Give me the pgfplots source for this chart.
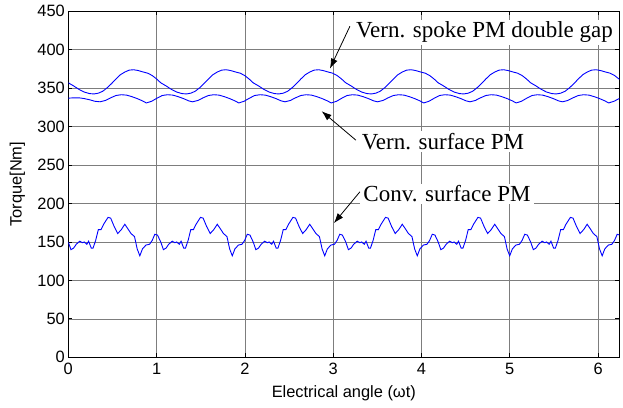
\documentclass[border=0pt]{standalone}
\usepackage{fontspec}
\setmainfont{Liberation Sans}
\newfontfamily\tnr{Liberation Serif}
\usepackage{pgfplots}
\pgfplotsset{compat=1.18}
\usetikzlibrary{arrows.meta}
\definecolor{mblue}{RGB}{0,0,255}
\definecolor{gridgray}{RGB}{125,125,125}
\begin{document}
\begin{tikzpicture}
\useasboundingbox (-68.3bp,-50.7bp) rectangle (554.7bp,357.3bp);
\begin{axis}[
 at={(0,0)}, anchor=south west,
 scale only axis, width=551bp, height=346bp,
 xmin=0, xmax=6.24, ymin=0, ymax=450,
 xtick={0,1,2,3,4,5,6}, ytick={0,50,...,450},
 grid=major, major grid style={gridgray, line width=0.7bp},
 axis line style={black, line width=1.2bp},
 tick align=inside, major tick length=4bp, tick style={black, line width=0.8bp},
 tick label style={font=\fontsize{16.4bp}{19bp}\selectfont},
 /pgf/number format/assume math mode=true,
 xticklabel style={yshift=-2bp},
 label style={font=\fontsize{16.4bp}{19bp}\selectfont},
 xlabel={Electrical angle (ωt)},
 ylabel={Torque[Nm]},
 xlabel style={at={(axis description cs:0.5,-0.1162)}, anchor=base},
 ylabel style={at={(axis description cs:-0.0849,0.5)}, anchor=base},
 clip mode=individual,
]
% Vern. spoke PM double gap
\addplot[mblue, line width=0.9bp] coordinates {
(0.000,357) (0.060,353) (0.120,348.5) (0.180,345) (0.240,343) (0.290,342.5) (0.340,343.5) (0.390,346) (0.440,350.5) (0.490,356) (0.540,362) (0.590,367.5) (0.640,371) (0.690,373.5) (0.740,374) (0.790,373) (0.850,371) (0.900,369.5) (0.950,366.5) (1.000,362)
(1.047,357) (1.107,353) (1.167,348.5) (1.227,345) (1.287,343) (1.337,342.5) (1.387,343.5) (1.437,346) (1.487,350.5) (1.537,356) (1.587,362) (1.637,367.5) (1.687,371) (1.737,373.5) (1.787,374) (1.837,373) (1.897,371) (1.947,369.5) (1.997,366.5) (2.047,362)
(2.094,357) (2.154,353) (2.214,348.5) (2.274,345) (2.334,343) (2.384,342.5) (2.434,343.5) (2.484,346) (2.534,350.5) (2.584,356) (2.634,362) (2.684,367.5) (2.734,371) (2.784,373.5) (2.834,374) (2.884,373) (2.944,371) (2.994,369.5) (3.044,366.5) (3.094,362)
(3.142,357) (3.202,353) (3.262,348.5) (3.322,345) (3.382,343) (3.432,342.5) (3.482,343.5) (3.532,346) (3.582,350.5) (3.632,356) (3.682,362) (3.732,367.5) (3.782,371) (3.832,373.5) (3.882,374) (3.932,373) (3.992,371) (4.042,369.5) (4.092,366.5) (4.142,362)
(4.189,357) (4.249,353) (4.309,348.5) (4.369,345) (4.429,343) (4.479,342.5) (4.529,343.5) (4.579,346) (4.629,350.5) (4.679,356) (4.729,362) (4.779,367.5) (4.829,371) (4.879,373.5) (4.929,374) (4.979,373) (5.039,371) (5.089,369.5) (5.139,366.5) (5.189,362)
(5.236,357) (5.296,353) (5.356,348.5) (5.416,345) (5.476,343) (5.526,342.5) (5.576,343.5) (5.626,346) (5.676,350.5) (5.726,356) (5.776,362) (5.826,367.5) (5.876,371) (5.926,373.5) (5.976,374) (6.026,373) (6.086,371) (6.136,369.5) (6.186,366.5) (6.236,362) (6.283,357)
};
% Vern. surface PM
\addplot[mblue, line width=0.9bp] coordinates {
(0.000,337) (0.060,337.5) (0.120,337.5) (0.180,336.5) (0.240,335) (0.300,333)
(0.360,332.3) (0.420,334) (0.480,337.5) (0.540,340.5) (0.600,341.5) (0.660,341) (0.720,339) (0.780,336.5) (0.840,333.5)
(0.884,330.8) (0.944,333) (1.004,337) (1.064,340.5) (1.124,341.5) (1.184,341) (1.244,339) (1.304,336.5) (1.364,333.5)
(1.407,332.3) (1.467,334) (1.527,337.5) (1.587,340.5) (1.647,341.5) (1.707,341) (1.767,339) (1.827,336.5) (1.887,333.5)
(1.931,330.8) (1.991,333) (2.051,337) (2.111,340.5) (2.171,341.5) (2.231,341) (2.291,339) (2.351,336.5) (2.411,333.5)
(2.454,332.3) (2.514,334) (2.574,337.5) (2.634,340.5) (2.694,341.5) (2.754,341) (2.814,339) (2.874,336.5) (2.934,333.5)
(2.978,330.8) (3.038,333) (3.098,337) (3.158,340.5) (3.218,341.5) (3.278,341) (3.338,339) (3.398,336.5) (3.458,333.5)
(3.502,332.3) (3.562,334) (3.622,337.5) (3.682,340.5) (3.742,341.5) (3.802,341) (3.862,339) (3.922,336.5) (3.982,333.5)
(4.025,330.8) (4.085,333) (4.145,337) (4.205,340.5) (4.265,341.5) (4.325,341) (4.385,339) (4.445,336.5) (4.505,333.5)
(4.549,332.3) (4.609,334) (4.669,337.5) (4.729,340.5) (4.789,341.5) (4.849,341) (4.909,339) (4.969,336.5) (5.029,333.5)
(5.072,330.8) (5.132,333) (5.192,337) (5.252,340.5) (5.312,341.5) (5.372,341) (5.432,339) (5.492,336.5) (5.552,333.5)
(5.596,332.3) (5.656,334) (5.716,337.5) (5.776,340.5) (5.836,341.5) (5.896,341) (5.956,339) (6.016,336.5) (6.076,333.5)
(6.120,330.8) (6.180,333) (6.240,336.5) (6.283,338.5)
};
% Conv. surface PM
\addplot[mblue, line width=0.9bp] coordinates {
(0.000,150) (0.030,140) (0.060,142) (0.090,147) (0.130,151) (0.160,149) (0.180,150) (0.210,147) (0.230,151) (0.260,142) (0.280,142) (0.310,152) (0.340,166) (0.370,166) (0.400,173) (0.450,182) (0.480,181) (0.520,170) (0.560,161) (0.600,166) (0.640,173) (0.670,168) (0.710,161) (0.750,157) (0.780,141) (0.810,132) (0.840,141) (0.880,146) (0.920,147) (0.950,152) (0.980,160) (1.010,159)
(1.047,150) (1.077,140) (1.107,142) (1.137,147) (1.177,151) (1.207,149) (1.227,150) (1.257,147) (1.277,151) (1.307,142) (1.327,142) (1.357,152) (1.387,166) (1.417,166) (1.447,173) (1.497,182) (1.527,181) (1.567,170) (1.607,161) (1.647,166) (1.687,173) (1.717,168) (1.757,161) (1.797,157) (1.827,141) (1.857,132) (1.887,141) (1.927,146) (1.967,147) (1.997,152) (2.027,160) (2.057,159)
(2.094,150) (2.124,140) (2.154,142) (2.184,147) (2.224,151) (2.254,149) (2.274,150) (2.304,147) (2.324,151) (2.354,142) (2.374,142) (2.404,152) (2.434,166) (2.464,166) (2.494,173) (2.544,182) (2.574,181) (2.614,170) (2.654,161) (2.694,166) (2.734,173) (2.764,168) (2.804,161) (2.844,157) (2.874,141) (2.904,132) (2.934,141) (2.974,146) (3.014,147) (3.044,152) (3.074,160) (3.104,159)
(3.142,150) (3.172,140) (3.202,142) (3.232,147) (3.272,151) (3.302,149) (3.322,150) (3.352,147) (3.372,151) (3.402,142) (3.422,142) (3.452,152) (3.482,166) (3.512,166) (3.542,173) (3.592,182) (3.622,181) (3.662,170) (3.702,161) (3.742,166) (3.782,173) (3.812,168) (3.852,161) (3.892,157) (3.922,141) (3.952,132) (3.982,141) (4.022,146) (4.062,147) (4.092,152) (4.122,160) (4.152,159)
(4.189,150) (4.219,140) (4.249,142) (4.279,147) (4.319,151) (4.349,149) (4.369,150) (4.399,147) (4.419,151) (4.449,142) (4.469,142) (4.499,152) (4.529,166) (4.559,166) (4.589,173) (4.639,182) (4.669,181) (4.709,170) (4.749,161) (4.789,166) (4.829,173) (4.859,168) (4.899,161) (4.939,157) (4.969,141) (4.999,132) (5.029,141) (5.069,146) (5.109,147) (5.139,152) (5.169,160) (5.199,159)
(5.236,150) (5.266,140) (5.296,142) (5.326,147) (5.366,151) (5.396,149) (5.416,150) (5.446,147) (5.466,151) (5.496,142) (5.516,142) (5.546,152) (5.576,166) (5.606,166) (5.636,173) (5.686,182) (5.716,181) (5.756,170) (5.796,161) (5.836,166) (5.876,173) (5.906,168) (5.946,161) (5.986,157) (6.016,141) (6.046,132) (6.076,141) (6.116,146) (6.156,147) (6.186,152) (6.216,160) (6.246,159) (6.283,150)
};
% annotations
\node[font=\tnr\fontsize{23bp}{27bp}\selectfont, fill=white, anchor=base west, inner xsep=3bp, inner ysep=2bp] at (axis cs:3.223,415.8) {Vern. spoke PM double gap};
\node[font=\tnr\fontsize{23bp}{27bp}\selectfont, fill=white, anchor=base west, inner xsep=3bp, inner ysep=2bp] at (axis cs:3.288,270.3) {Vern. surface PM};
\node[font=\tnr\fontsize{23bp}{27bp}\selectfont, fill=white, anchor=base west, inner xsep=3bp, inner ysep=2bp] at (axis cs:3.306,202.2) {Conv. surface PM};
\draw[-{Latex[length=10bp,width=7bp]}, line width=0.8bp] (axis cs:3.189,430.5) -- (axis cs:2.963,375.5);
\draw[-{Latex[length=10bp,width=7bp]}, line width=0.8bp] (axis cs:3.257,282.4) -- (axis cs:2.869,320.1);
\draw[-{Latex[length=10bp,width=7bp]}, line width=0.8bp] (axis cs:3.302,215.2) -- (axis cs:3.008,174.5);
\end{axis}
\end{tikzpicture}
\end{document}
